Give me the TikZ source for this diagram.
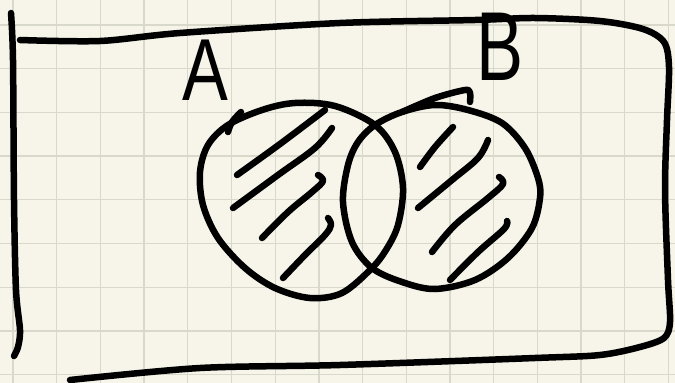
\documentclass[tikz,border=0pt]{standalone}
\usepackage{fontspec}
\setmainfont{Liberation Sans}
\definecolor{paper}{RGB}{247,245,233}
\definecolor{gridc}{RGB}{216,216,203}
\begin{document}
\begin{tikzpicture}[x=1pt,y=-1pt,
  ink/.style={line width=6.5pt,line cap=round,line join=round,black},
  gridline/.style={line width=1.3pt,gridc},
  letter/.style={inner sep=0pt,outer sep=0pt,black,transform shape}]
\fill[paper] (0,0) rectangle (675,383);
\useasboundingbox (0,0) rectangle (675,383);
% grid paper
\foreach \i in {0,...,15} \draw[gridline] ({13+43.7*\i},0) -- ({13+43.7*\i},383);
\foreach \j in {0,...,8} \draw[gridline] (0,{25+43.7*\j}) -- (675,{25+43.7*\j});
% universe frame
\draw[ink] plot[smooth,tension=0.5] coordinates {(11,13) (13,60) (14,200) (16,290) (20,330) (18,347) (14,356)};
\draw[ink] plot[smooth,tension=0.5] coordinates {(20,40) (100,41) (180,33) (340,23) (475,20) (535,18) (600,21) (643,29) (664,42) (669,67) (667,120) (665,190) (668,280) (670,322) (664,338) (640,347) (600,355) (535,358) (340,365) (200,368) (70,380)};
% set A
\draw[ink] plot[smooth cycle,tension=0.55] coordinates {(295,103) (335,106) (375,125) (395,152) (403,188) (398,225) (386,250) (371,269) (342,293) (310,298) (275,288) (245,268) (218,238) (203,205) (200,172) (208,145) (228,125) (262,110)};
\draw[ink] plot[smooth,tension=0.6] coordinates {(241,112) (232,122) (228,132)};
% set B
\draw[ink] plot[smooth cycle,tension=0.55] coordinates {(375,125) (402,112) (435,105) (468,110) (502,123) (525,148) (538,178) (540,198) (532,228) (508,258) (475,280) (435,289) (402,282) (372,268) (352,242) (343,202) (348,165) (358,142)};
\draw[ink] plot[smooth,tension=0.5] coordinates {(402,112) (435,98) (465,90) (470,93) (470,102)};
% hatching in A
\draw[ink] plot[smooth,tension=0.6] coordinates {(237,175) (280,144) (325,110)};
\draw[ink] plot[smooth,tension=0.6] coordinates {(233,208) (278,175) (315,148) (332,128)};
\draw[ink] plot[smooth,tension=0.6] coordinates {(262,238) (288,212) (312,192) (323,181) (318,175)};
\draw[ink] plot[smooth,tension=0.6] coordinates {(283,278) (305,255) (325,235) (331,225) (328,218)};
% hatching in B
\draw[ink] plot[smooth,tension=0.6] coordinates {(420,167) (435,147) (453,127)};
\draw[ink] plot[smooth,tension=0.6] coordinates {(418,208) (452,180) (478,158) (488,140)};
\draw[ink] plot[smooth,tension=0.6] coordinates {(432,252) (455,225) (488,198) (503,184) (499,177)};
\draw[ink] plot[smooth,tension=0.6] coordinates {(450,280) (478,252) (504,229) (507,221)};
% labels
\node[letter,font=\fontsize{88}{88}\selectfont,xscale=0.78,anchor=base] (labA) at (205,100) {A};
\node[letter,font=\fontsize{98}{98}\selectfont,xscale=0.72,anchor=base] (labB) at (500,80) {B};
\end{tikzpicture}
\end{document}
